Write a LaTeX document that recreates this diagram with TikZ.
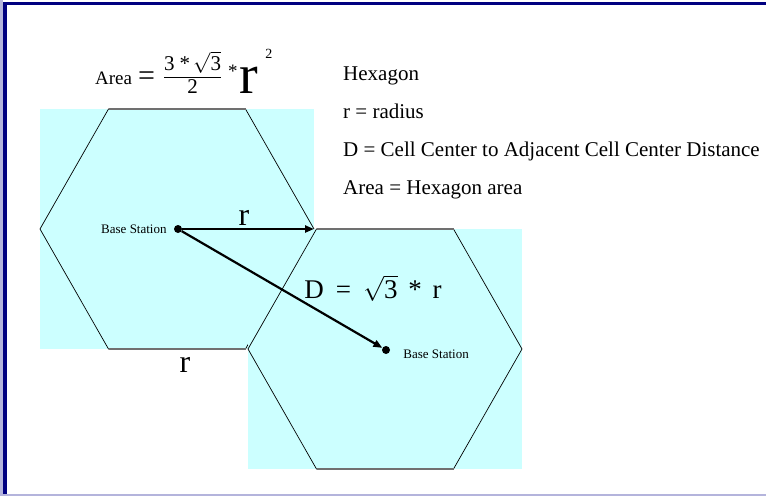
\documentclass[tikz,border=0pt]{standalone}
\usepackage{fontspec}
\setmainfont{Liberation Serif}
\usepackage{xcolor}
\definecolor{cellfill}{HTML}{CCFFFF}
\definecolor{frame}{HTML}{000080}
\definecolor{frameedge}{HTML}{B4B4DC}
\definecolor{edgegray}{HTML}{707070}
\usepackage{tikz}
\usetikzlibrary{arrows.meta, positioning}
\tikzset{
  cellbg/.style={fill=cellfill, draw=none},
  celledge/.style={draw=black, line width=0.7pt, line join=miter},
  flatedge/.style={draw=edgegray, line width=1.6pt},
  bsdot/.style={circle, fill=black, inner sep=0pt, minimum size=8pt},
  bslabel/.style={font=\fontsize{13}{14}\selectfont, inner sep=0pt},
  legend/.style={font=\fontsize{21}{24}\selectfont, anchor=base west, inner sep=0pt},
  bigr/.style={font=\fontsize{32}{34}\selectfont, anchor=base, inner sep=0pt},
  arr/.style={-{Triangle[length=9pt, width=7pt]}, line width=2.2pt, draw=black}
}

\begin{document}
\begin{tikzpicture}[x=1pt, y=-1pt]

  \useasboundingbox (0,0) rectangle (766,496);

  %% Slide frame
  \fill[frameedge] (0,0) rectangle (3,496);
  \fill[frameedge] (0,494) rectangle (766,496);
  \fill[frame] (3,1.7) rectangle (766,5.3);
  \fill[frame] (3,1.7) rectangle (7,494);

  %% First cell
  \coordinate (aW)  at (40,229);
  \coordinate (aNW) at (108.5,109);
  \coordinate (aNE) at (245.5,109);
  \coordinate (aE)  at (314,229);
  \coordinate (aSE) at (245.5,349);
  \coordinate (aSW) at (108.5,349);
  \fill[cellbg] (40,109) rectangle (314,349);
  \draw[celledge] (aW) -- (aNW) -- (aNE) -- (aE) -- (aSE) -- (aSW) -- cycle;
  \draw[flatedge] (aNW) -- (aNE);  \draw[flatedge] (aSW) -- (aSE);

  %% Second cell
  \coordinate (bW)  at (248,349);
  \coordinate (bNW) at (316.5,229);
  \coordinate (bNE) at (453.5,229);
  \coordinate (bE)  at (522,349);
  \coordinate (bSE) at (453.5,469);
  \coordinate (bSW) at (316.5,469);
  \fill[cellbg] (248,229) rectangle (522,469);
  \draw[celledge] (bW) -- (bNW) -- (bNE) -- (bE) -- (bSE) -- (bSW) -- cycle;
  \draw[flatedge] (bNW) -- (bNE);  \draw[flatedge] (bSW) -- (bSE);

  %% Base stations
  \node[bsdot] (bs1) at (178,229) {};
  \node[bsdot] (bs2) at (386,350) {};
  \node[bslabel, left=7pt of bs1] (bs1lbl) {Base Station};
  \node[bslabel, right=13pt of bs2, yshift=-4pt] (bs2lbl) {Base Station};

  \draw[arr] (bs1) -- (aE);
  \draw[arr] (bs1) -- (bs2);

  \node[bigr] (rlbl) at (244,225) {r};
  \node[bigr] (rbot) at (185,372) {r};
  \node[font=\fontsize{27}{29}\selectfont, anchor=base, inner sep=0pt] (dlbl) at (373,298)
    {D\hspace{0.45em}=\hspace{0.45em}$\sqrt{\mbox{3}}$\hspace{0.4em}*\hspace{0.4em}r};

  %% Area formula
  \node[font=\fontsize{19}{20}\selectfont, anchor=base west, inner sep=0pt] (areaeq) at (95,84)
    {Area\hspace{6pt}{\fontsize{30}{30}\selectfont\raisebox{-1pt}{=}}\hspace{8pt}%
     \raisebox{2pt}{$\displaystyle\frac{\mbox{\fontsize{21}{21}\selectfont 3\hspace{5pt}*\hspace{3pt}$\sqrt{\mbox{3}}$}}%
       {\mbox{\fontsize{21}{21}\selectfont 2}}$}%
     \hspace{6pt}\raisebox{7pt}{*}\hspace{2pt}{\fontsize{56}{56}\selectfont\raisebox{-9pt}{r}}%
     \hspace{7pt}\raisebox{26pt}{\fontsize{14}{14}\selectfont 2}};

  %% Legend
  \node[legend] (lg1) at (343,80)  {Hexagon};
  \node[legend] (lg2) at (343,118) {r = radius};
  \node[legend] (lg3) at (343,156) {D = Cell Center to Adjacent Cell Center Distance};
  \node[legend] (lg4) at (343,194) {Area = Hexagon area};

\end{tikzpicture}
\end{document}
